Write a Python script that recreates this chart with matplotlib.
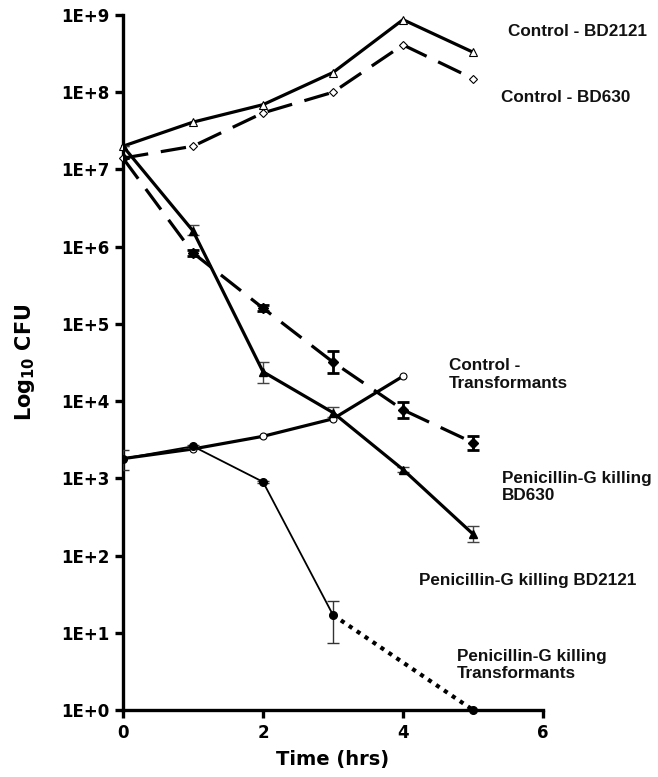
import matplotlib
matplotlib.use("Agg")
import matplotlib.pyplot as plt
from matplotlib.ticker import FixedLocator, FuncFormatter, NullLocator
import numpy as np

time = [0, 1, 2, 3, 4, 5]
ctrl_bd2121 = [2.0e7, 4.1e7, 6.9e7, 1.8e8, 8.7e8, 3.3e8]
ctrl_bd630 = [1.4e7, 2.0e7, 5.4e7, 1.0e8, 4.1e8, 1.5e8]
pen_bd2121 = [2.0e7, 1.6e6, 2.4e4, 7.1e3, 1.3e3, 1.9e2]
pen_bd2121_lo = [2.0e7, 1.4e6, 1.7e4, 6.3e3, 1.2e3, 1.5e2]
pen_bd2121_hi = [2.0e7, 1.9e6, 3.2e4, 8.5e3, 1.4e3, 2.4e2]
pen_bd630 = [1.4e7, 8.3e5, 1.6e5, 3.2e4, 7.7e3, 2.9e3]
pen_bd630_lo = [1.4e7, 7.5e5, 1.45e5, 2.3e4, 6.0e3, 2.3e3]
pen_bd630_hi = [1.4e7, 9.0e5, 1.75e5, 4.4e4, 9.8e3, 3.5e3]
time_ctrl_trans = [0, 1, 2, 3, 4]
ctrl_trans = [1.8e3, 2.4e3, 3.5e3, 5.9e3, 2.1e4]
time_pen_trans = [0, 1, 2, 3]
pen_trans = [1.8e3, 2.6e3, 9.0e2, 17]
pen_trans_lo = [1.3e3, 2.5e3, 8.8e2, 7.4]
pen_trans_hi = [2.3e3, 2.7e3, 9.2e2, 26]
time_pen_trans_dot = [3, 5]
pen_trans_dot = [17, 1]

ytick_vals = [1e0, 1e1, 1e2, 1e3, 1e4, 1e5, 1e6, 1e7, 1e8, 1e9]
xtick_vals = [0, 2, 4, 6]

fig = plt.figure(figsize=(6.58, 7.77), dpi=100)
ax = fig.add_axes([123/658, 67/777, 420/658, 695/777])
ax.set_yscale("log")
ax.set_xlim(0, 6)
ax.set_ylim(1, 1e9)

lw = 2.3
dash = (0, (8, 4))

def errs(v, lo, hi):
    v = np.array(v); return [v - np.array(lo), np.array(hi) - v]

# Control BD2121
ax.plot(time, ctrl_bd2121, color="black", lw=lw, marker="^", ms=6,
        mfc="white", mec="black", mew=0.8, clip_on=False, zorder=3)
# Control BD630
ax.plot(time, ctrl_bd630, color="black", lw=lw, ls=dash, marker="D", ms=4.5,
        mfc="white", mec="black", mew=0.8, clip_on=False, zorder=3)
# Penicillin BD2121
ax.errorbar(time, pen_bd2121, yerr=errs(pen_bd2121, pen_bd2121_lo, pen_bd2121_hi),
            color="black", lw=lw, marker="^", ms=6, mfc="black", mec="black",
            ecolor="#444444", elinewidth=1.0, capsize=4, capthick=1.0, zorder=3)
# Penicillin BD630
ax.errorbar(time, pen_bd630, yerr=errs(pen_bd630, pen_bd630_lo, pen_bd630_hi),
            color="black", lw=lw, ls=dash, marker="D", ms=5, mfc="black", mec="black",
            ecolor="black", elinewidth=2.0, capsize=4, capthick=2.0, zorder=3)
# Control transformants
ax.plot(time_ctrl_trans, ctrl_trans, color="black", lw=lw, marker="o", ms=5,
        mfc="white", mec="black", mew=0.8, zorder=3)
# Penicillin transformants
ax.errorbar(time_pen_trans, pen_trans, yerr=errs(pen_trans, pen_trans_lo, pen_trans_hi),
            color="black", lw=1.3, marker="o", ms=5.5, mfc="black", mec="black",
            ecolor="#333333", elinewidth=1.0, capsize=4, capthick=1.0, zorder=3)
ax.plot(time_pen_trans_dot, pen_trans_dot, color="black", lw=3.0, ls=(0, (1, 1.3)),
        marker=None, zorder=2, clip_on=False)
ax.plot(time_pen_trans_dot[-1:], pen_trans_dot[-1:], color="black", marker="o", ms=5.5,
        ls="none", clip_on=False, zorder=4)

# axes styling
for s in ["top", "right"]:
    ax.spines[s].set_visible(False)
for s in ["left", "bottom"]:
    ax.spines[s].set_linewidth(2.4)
ax.yaxis.set_major_locator(FixedLocator(ytick_vals))
ax.yaxis.set_minor_locator(NullLocator())
ax.yaxis.set_major_formatter(FuncFormatter(lambda v, p: "1E+%d" % round(np.log10(v))))
ax.xaxis.set_major_locator(FixedLocator(xtick_vals))
ax.tick_params(axis="both", direction="out", length=6, width=2.4, labelsize=12, pad=4)
for lab in ax.get_xticklabels() + ax.get_yticklabels():
    lab.set_fontweight("bold")

ax.set_xlabel("Time (hrs)", fontsize=14, fontweight="bold", labelpad=6)
ax.set_ylabel(r"Log$_{\mathbf{10}}$ CFU", fontsize=15, fontweight="bold")
ax.yaxis.set_label_coords(-0.205, 0.5)

tf = dict(fontsize=12.3, fontweight="bold", family="Liberation Sans", color="#111111",
          va="center", ha="left")
def label(px, py, s):
    fig.text(px/658, 1 - py/777, s, linespacing=1.25, **tf)

label(508, 32, "Control - BD2121")
label(501, 98, "Control - BD630")
label(449, 375, "Control -\nTransformants")
label(502, 487, "Penicillin-G killing\nBD630")
label(419, 581, "Penicillin-G killing BD2121")
label(457, 665, "Penicillin-G killing\nTransformants")

fig.savefig("out.png", dpi=100)
